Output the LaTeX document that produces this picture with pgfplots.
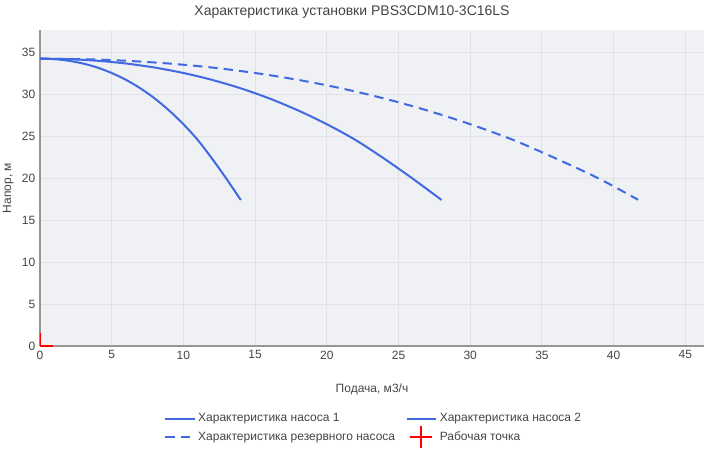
\documentclass[border=0pt]{standalone}
\usepackage{fontspec}
\setmainfont{Liberation Sans}
\usepackage{pgfplots}
\pgfplotsset{compat=1.18}

\definecolor{pumpblue}{RGB}{65,105,225}
\definecolor{plotbg}{RGB}{239,241,245}
\definecolor{gridc}{RGB}{224,226,231}
\definecolor{axc}{RGB}{150,150,150}
\definecolor{txt}{RGB}{68,68,68}

\begin{document}
\begin{tikzpicture}
% 1px = 0.75pt, page 704x450 px
\path[use as bounding box] (-30pt,-78pt) rectangle (498pt,259.5pt);
\begin{axis}[
    at={(0,0)}, anchor=south west,
    scale only axis,
    width=498pt, height=237pt,
    xmin=0, xmax=46.3,
    ymin=0, ymax=37.7,
    xtick={0,5,...,45},
    ytick={0,5,...,35},
    axis x line*=bottom,
    axis y line*=left,
    axis line style={axc, line width=1.5pt, -},
    axis background/.style={fill=plotbg},
    grid=major,
    major grid style={gridc, line width=0.75pt},
    major tick length=0pt,
    tick label style={font=\fontsize{9}{10}\selectfont, text=txt},
    /pgf/number format/assume math mode=true,
    xlabel={Подача, м3/ч},
    ylabel={Напор, м},
    label style={font=\fontsize{9}{10}\selectfont, text=txt},
    xlabel style={at={(axis description cs:0.5,-0.137)}, anchor=center},
    ylabel style={at={(axis description cs:-0.048,0.5)}, anchor=center, rotate=0},
    clip marker paths=true,
    legend columns=2,
    legend cell align=left,
    legend style={draw=none, fill=none, at={(0.503,-0.266)}, anchor=center,
        font=\fontsize{9}{10}\selectfont, text=txt,
        /tikz/every even column/.append style={column sep=6pt},
        row sep=-1pt},
    legend image code/.code={\draw[#1] (0pt,0pt) -- (22pt,0pt);},
]

% Характеристика насоса 1
\addplot[pumpblue, line width=1.5pt, smooth, tension=0.5] coordinates {
    (0,34.28) (1,34.22) (2,34.03) (3,33.70) (4,33.22) (5,32.57) (6,31.75)
    (7,30.74) (8,29.53) (9,28.10) (10,26.46) (11,24.58) (12,22.35)
    (13,19.95) (14,17.42)
};
\addlegendentry{Характеристика насоса 1}

% Характеристика насоса 2
\addplot[pumpblue, line width=1.5pt, smooth, tension=0.5] coordinates {
    (0,34.28) (2,34.22) (4,34.03) (6,33.70) (8,33.22) (10,32.57) (12,31.75)
    (14,30.74) (16,29.53) (18,28.10) (20,26.46) (22,24.58) (24,22.35)
    (26,19.95) (28,17.42)
};
\addlegendentry{Характеристика насоса 2}

% Характеристика резервного насоса
\addplot[pumpblue, line width=1.5pt, smooth, tension=0.5,
    dash pattern=on 7pt off 4.5pt] coordinates {
    (0,34.28) (3,34.22) (6,34.03) (9,33.70) (12,33.22) (15,32.57) (18,31.75)
    (21,30.74) (24,29.53) (27,28.10) (30,26.46) (33,24.58) (36,22.35)
    (39,19.95) (41.7,17.45)
};
\addlegendentry{Характеристика резервного насоса}

% Рабочая точка
\addplot[only marks, mark=+, mark size=10pt, mark options={red, line width=1.5pt},
    legend image code/.code={\draw[red, line width=1.5pt]
        (11pt,-8.25pt) -- (11pt,8.25pt) (2.75pt,0pt) -- (19.25pt,0pt);}]
    coordinates {(0,0)};
\addlegendentry{Рабочая точка}

\end{axis}
\node[font=\fontsize{10.5}{12}\selectfont, text=txt] at (234pt,250.5pt)
    {Характеристика установки PBS3CDM10-3C16LS};
\end{tikzpicture}
\end{document}
